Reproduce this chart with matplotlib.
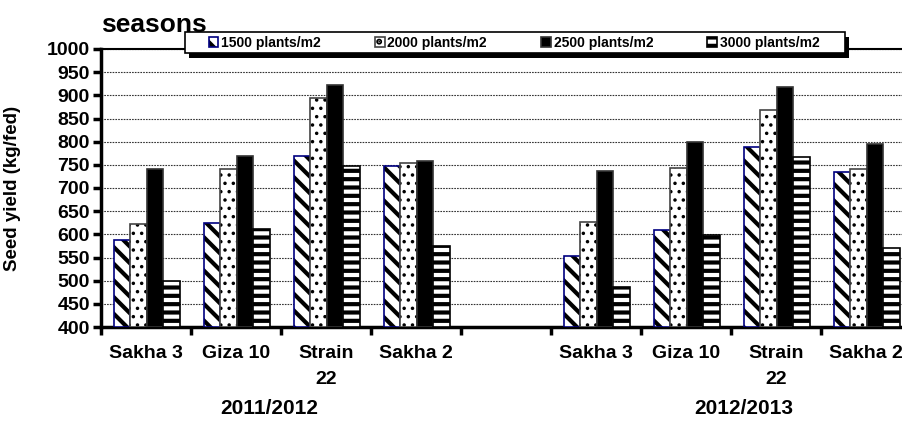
import matplotlib
matplotlib.use("Agg")
import matplotlib.pyplot as plt
from matplotlib.patches import Rectangle
import numpy as np

plt.rcParams['font.family'] = ['Liberation Sans', 'DejaVu Sans']
plt.rcParams['font.weight'] = 'bold'
plt.rcParams['hatch.linewidth'] = 3.0

# data
cultivars = ['Sakha 3', 'Giza 10', 'Strain\n22', 'Sakha 2']
seasons = ['2011/2012', '2012/2013']
densities = ['1500 plants/m2', '2000 plants/m2', '2500 plants/m2', '3000 plants/m2']
y_1500 = [587, 624, 769, 748, 553, 609, 789, 735]
y_2000 = [622, 741, 895, 753, 627, 744, 868, 742]
y_2500 = [742, 770, 922, 759, 737, 799, 919, 795]
y_3000 = [499, 611, 748, 575, 486, 599, 767, 571]

# slot positions (slot 4 is an empty gap between seasons)
slots = [0, 1, 2, 3, 5, 6, 7, 8]

W, H = 903, 426
fig = plt.figure(figsize=(W / 100, H / 100), dpi=100)
ax = fig.add_axes([101 / W, 1 - 327 / H, 810 / W, 278 / H])

bw = 0.183
offs = [-0.265, -0.082, 0.101, 0.284]
styles = [
    dict(facecolor='white', edgecolor='#000080', hatch='\\\\'),
    dict(facecolor='white', edgecolor='#444444', hatch='..'),
    dict(facecolor='black', edgecolor='#333333', hatch=None),
    dict(facecolor='white', edgecolor='black', hatch='--'),
]
series = [y_1500, y_2000, y_2500, y_3000]
x = np.array(slots, dtype=float)
handles = []
for vals, off, st, lab in zip(series, offs, styles, densities):
    bars = ax.bar(x + off, np.array(vals) - 400, bottom=400, width=bw,
                  facecolor=st['facecolor'], edgecolor=st['edgecolor'],
                  hatch=st['hatch'], linewidth=1.2, label=lab, zorder=3)
    for b in bars:
        if st['hatch'] == '..' and hasattr(b, 'set_hatch_linewidth'):
            b.set_hatch_linewidth(1.3)
        b._hatch_color = matplotlib.colors.to_rgba('black')
    handles.append(bars)

ax.set_ylim(400, 1000)
ax.set_xlim(-0.5, 8.5)
ax.set_yticks(np.arange(400, 1001, 50))
ax.yaxis.grid(True, linestyle=(0, (1.5, 1)), color='#333333', linewidth=0.8, zorder=0)
ax.set_axisbelow(True)

ax.set_xticks(np.arange(-0.5, 8.6, 1.0))
ax.set_xticklabels([])
ax.set_xticks(slots, minor=True)
ax.set_xticklabels(cultivars * 2, minor=True, fontsize=14, fontweight='bold',
                   linespacing=1.65)
ax.tick_params(axis='x', which='major', direction='out', length=6, width=2.5)
ax.tick_params(axis='x', which='minor', length=0, pad=13)
ax.tick_params(axis='y', direction='out', length=6, width=2.5, labelsize=14, pad=2)

for s in ['left', 'bottom']:
    ax.spines[s].set_linewidth(2.5)
ax.spines['top'].set_linewidth(1.5)

ax.set_ylabel('Seed yield (kg/fed)', fontsize=13.5, fontweight='bold')
ax.yaxis.set_label_coords((21 - 101) / 810, 0.5)

for lab, px in zip(seasons, [269, 744]):
    fig.text(px / W, 1 - 408 / H, lab, ha='center', va='center',
             fontsize=15, fontweight='bold')

fig.text(101 / W, 1 - 25 / H, 'seasons', ha='left', va='center',
         fontsize=19, fontweight='bold')

# legend frame with a solid black drop shadow
fig.add_artist(Rectangle((189 / W, 1 - 58 / H), 660 / W, 21 / H,
                         transform=fig.transFigure, facecolor='black',
                         edgecolor='none', zorder=4))
fig.add_artist(Rectangle((185 / W, 1 - 53 / H), 660 / W, 21 / H,
                         transform=fig.transFigure, facecolor='white',
                         edgecolor='black', linewidth=1.2, zorder=4.5))
leg = fig.legend(handles=handles, labels=densities, ncol=4,
                 loc='center', bbox_to_anchor=(514 / W, 1 - 42.5 / H),
                 frameon=False, prop={'size': 10, 'weight': 'bold'},
                 handlelength=0.7, handleheight=0.7, handletextpad=0.2,
                 columnspacing=3.9, borderpad=0.3)
leg.set_zorder(5)

fig.savefig('out.png', dpi=100)
